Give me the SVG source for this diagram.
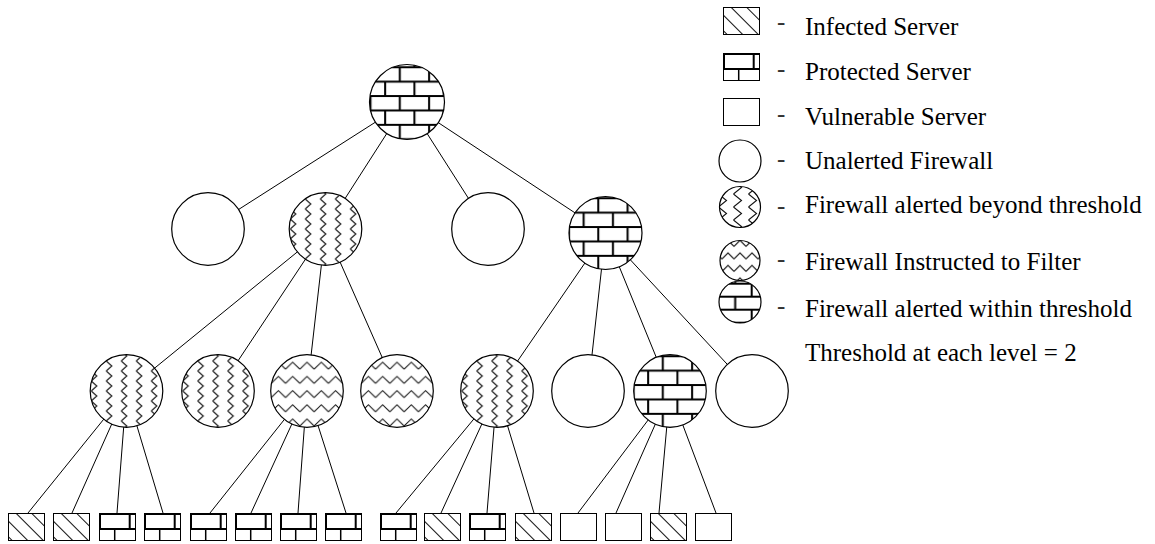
<svg xmlns="http://www.w3.org/2000/svg" xmlns:xlink="http://www.w3.org/1999/xlink" width="1155" height="544" viewBox="0 0 1155 544">
  <style>
    .edge { stroke: #000; stroke-width: 1; fill: none; }
    .fw { stroke: #000; stroke-width: 1.2; }
    .plain { fill: #fff; }
    .srv { stroke: #000; stroke-width: 1; }
    .label { font-family: "Liberation Serif", "Times New Roman", serif; font-size: 25px; fill: #000; }
    .dash { font-family: "Liberation Serif", "Times New Roman", serif; font-size: 25px; fill: #333; }
    .brickline { stroke: #000; stroke-width: 2; fill: none; }
    .zig { stroke: #111; stroke-width: 1.1; fill: none; }
  </style>
  <defs>
    <!-- brick wall fill for firewalls alerted within threshold (node-centred coordinates) -->
    <pattern id="brick" patternUnits="userSpaceOnUse" x="-14.2" y="-41.7" width="29.3" height="28.8">
      <rect width="29.3" height="28.8" fill="#fff"/>
      <path class="brickline" d="M0,7 H29.3 M0,21.4 H29.3 M7,7 V21.4 M21.65,21.4 V28.8 M21.65,0 V7"/>
    </pattern>
    <pattern id="brickSmall" patternUnits="userSpaceOnUse" x="6.7" y="-23.3" width="33" height="26">
      <rect width="33" height="26" fill="#fff"/>
      <path class="brickline" d="M0,5 H33 M0,18 H33 M5,5 V18 M21.5,18 V26 M21.5,0 V5"/>
    </pattern>
    <!-- vertical zigzag columns: firewall alerted beyond threshold -->
    <pattern id="zigzag" patternUnits="userSpaceOnUse" x="-9.7" y="0" width="15" height="10">
      <rect width="15" height="10" fill="#fff"/>
      <polyline class="zig" points="4.5,0 10,5 4.5,10"/>
    </pattern>
    <pattern id="zigzagSmall" patternUnits="userSpaceOnUse" x="-10" y="0" width="15" height="13">
      <rect width="15" height="13" fill="#fff"/>
      <polyline class="zig" points="3.5,0 11.5,6.5 3.5,13"/>
    </pattern>
    <!-- horizontal chevron rows: firewall instructed to filter -->
    <pattern id="wave" patternUnits="userSpaceOnUse" x="-7.15" y="-32.3" width="14.3" height="14.2">
      <rect width="14.3" height="14.2" fill="#fff"/>
      <polyline class="zig" points="0,10.5 7.15,3.5 14.3,10.5"/>
    </pattern>
    <pattern id="waveSmall" patternUnits="userSpaceOnUse" x="-6" y="-24" width="12" height="12.5">
      <rect width="12" height="12.5" fill="#fff"/>
      <polyline class="zig" points="0,10 6,4 12,10"/>
    </pattern>
    <!-- diagonal hatch: infected server -->
    <pattern id="hatch" patternUnits="userSpaceOnUse" width="12" height="11" patternTransform="rotate(45)">
      <rect width="12" height="11" fill="#fff"/>
      <line x1="0" y1="5.5" x2="12" y2="5.5" stroke="#111" stroke-width="1"/>
    </pattern>
    <!-- server glyphs, 37 x 28 -->
    <g id="infected">
      <rect x="0.5" y="0.5" width="36" height="27" fill="url(#hatch)" class="srv"/>
    </g>
    <g id="protected">
      <rect x="0.5" y="0.5" width="36" height="27" fill="#fff" class="srv"/>
      <path d="M0,1 H37 M1,0 V16 M0,16 H37 M30.7,1 V16" stroke="#000" stroke-width="2" fill="none"/>
      <path d="M15.7,16 V28" stroke="#000" stroke-width="1.5" fill="none"/>
    </g>
    <g id="vulnerable">
      <rect x="0.5" y="0.5" width="36" height="27" fill="#fff" class="srv"/>
    </g>
  </defs>

  <rect width="1155" height="544" fill="#fff"/>

  <g id="connectors">
    <!-- root to second level -->
    <line class="edge" x1="407" y1="102" x2="208" y2="229"/>
    <line class="edge" x1="407" y1="102" x2="325.5" y2="229"/>
    <line class="edge" x1="407" y1="102" x2="488" y2="229"/>
    <line class="edge" x1="407" y1="102" x2="605.5" y2="233"/>
    <!-- second level to third level -->
    <line class="edge" x1="325.5" y1="229" x2="126.5" y2="391"/>
    <line class="edge" x1="325.5" y1="229" x2="218" y2="391"/>
    <line class="edge" x1="325.5" y1="229" x2="307" y2="391"/>
    <line class="edge" x1="325.5" y1="229" x2="397" y2="391"/>
    <line class="edge" x1="605.5" y1="233" x2="497" y2="391"/>
    <line class="edge" x1="605.5" y1="233" x2="588" y2="391"/>
    <line class="edge" x1="605.5" y1="233" x2="670" y2="391"/>
    <line class="edge" x1="605.5" y1="233" x2="752" y2="391"/>
    <!-- third level to servers -->
    <line class="edge" x1="126.5" y1="391" x2="28" y2="513"/>
    <line class="edge" x1="126.5" y1="391" x2="72" y2="513"/>
    <line class="edge" x1="126.5" y1="391" x2="117" y2="513"/>
    <line class="edge" x1="126.5" y1="391" x2="163" y2="513"/>
    <line class="edge" x1="307" y1="391" x2="210" y2="513"/>
    <line class="edge" x1="307" y1="391" x2="251" y2="513"/>
    <line class="edge" x1="307" y1="391" x2="298" y2="513"/>
    <line class="edge" x1="307" y1="391" x2="346" y2="513"/>
    <line class="edge" x1="497" y1="391" x2="396" y2="513"/>
    <line class="edge" x1="497" y1="391" x2="441" y2="513"/>
    <line class="edge" x1="497" y1="391" x2="487" y2="513"/>
    <line class="edge" x1="497" y1="391" x2="534" y2="513"/>
    <line class="edge" x1="670" y1="391" x2="578" y2="513"/>
    <line class="edge" x1="670" y1="391" x2="616" y2="513"/>
    <line class="edge" x1="670" y1="391" x2="659" y2="513"/>
    <line class="edge" x1="670" y1="391" x2="716" y2="513"/>
  </g>

  <!-- firewalls -->
  <g id="fw-root" transform="translate(407,102)"><circle r="37.5" class="fw" fill="url(#brick)"/></g>

  <g id="fw-2a" transform="translate(208,229)"><circle r="36.3" class="fw plain"/></g>
  <g id="fw-2b" transform="translate(325.5,229)"><circle r="36.3" class="fw" fill="url(#zigzag)"/></g>
  <g id="fw-2c" transform="translate(488,229)"><circle r="36.3" class="fw plain"/></g>
  <g id="fw-2d" transform="translate(605.5,233)"><circle r="36.5" class="fw" fill="url(#brick)"/></g>

  <g id="fw-3a" transform="translate(126.5,391)"><circle r="36.3" class="fw" fill="url(#zigzag)"/></g>
  <g id="fw-3b" transform="translate(218,391)"><circle r="36.3" class="fw" fill="url(#zigzag)"/></g>
  <g id="fw-3c" transform="translate(307,391)"><circle r="36.3" class="fw" fill="url(#wave)"/></g>
  <g id="fw-3d" transform="translate(397,391)"><circle r="36.3" class="fw" fill="url(#wave)"/></g>
  <g id="fw-3e" transform="translate(497,391)"><circle r="36.3" class="fw" fill="url(#zigzag)"/></g>
  <g id="fw-3f" transform="translate(588,391)"><circle r="36.3" class="fw plain"/></g>
  <g id="fw-3g" transform="translate(670,391)"><circle r="36.3" class="fw" fill="url(#brick)"/></g>
  <g id="fw-3h" transform="translate(752,391)"><circle r="36.3" class="fw plain"/></g>

  <!-- servers -->
  <g id="srv-01"><use href="#infected" x="8" y="513"/></g>
  <g id="srv-02"><use href="#infected" x="53" y="513"/></g>
  <g id="srv-03"><use href="#protected" x="99" y="513"/></g>
  <g id="srv-04"><use href="#protected" x="144" y="513"/></g>
  <g id="srv-05"><use href="#protected" x="190" y="513"/></g>
  <g id="srv-06"><use href="#protected" x="235" y="513"/></g>
  <g id="srv-07"><use href="#protected" x="280" y="513"/></g>
  <g id="srv-08"><use href="#protected" x="325" y="513"/></g>
  <g id="srv-09"><use href="#protected" x="380" y="513"/></g>
  <g id="srv-10"><use href="#infected" x="424" y="513"/></g>
  <g id="srv-11"><use href="#protected" x="469" y="513"/></g>
  <g id="srv-12"><use href="#infected" x="515" y="513"/></g>
  <g id="srv-13"><use href="#vulnerable" x="560" y="513"/></g>
  <g id="srv-14"><use href="#vulnerable" x="605" y="513"/></g>
  <g id="srv-15"><use href="#infected" x="650" y="513"/></g>
  <g id="srv-16"><use href="#vulnerable" x="695" y="513"/></g>

  <!-- legend -->
  <g id="legend">
    <use href="#infected" x="723" y="7"/>
    <text class="dash" x="777" y="29.6">-</text>
    <text class="label" x="805" y="35">Infected Server</text>

    <use href="#protected" x="723" y="53"/>
    <text class="dash" x="777" y="77">-</text>
    <text class="label" x="805" y="80">Protected Server</text>

    <use href="#vulnerable" x="723" y="98"/>
    <text class="dash" x="777" y="122">-</text>
    <text class="label" x="805" y="125">Vulnerable Server</text>

    <g transform="translate(740,161)"><circle r="21" class="fw plain"/></g>
    <text class="dash" x="777" y="167.3">-</text>
    <text class="label" x="805" y="169">Unalerted Firewall</text>

    <g transform="translate(740,207)"><circle r="20.5" class="fw" fill="url(#zigzagSmall)"/></g>
    <text class="dash" x="777" y="214">-</text>
    <text class="label" x="805" y="213">Firewall alerted beyond threshold</text>

    <g transform="translate(740,260.5)"><circle r="20" class="fw" fill="url(#waveSmall)"/></g>
    <text class="dash" x="777" y="267.3">-</text>
    <text class="label" x="805" y="270">Firewall Instructed to Filter</text>

    <g transform="translate(740,302)"><circle r="21" class="fw" fill="url(#brickSmall)"/></g>
    <text class="dash" x="777" y="314">-</text>
    <text class="label" x="805" y="316.5">Firewall alerted within threshold</text>

    <text class="label" x="805" y="361">Threshold at each level = 2</text>
  </g>
</svg>
